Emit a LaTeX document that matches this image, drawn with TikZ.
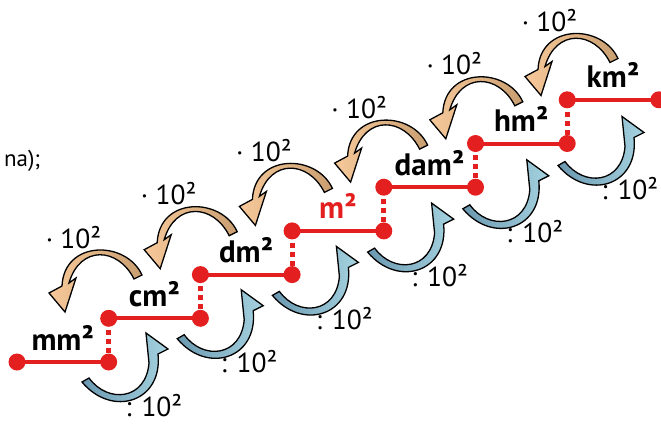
\documentclass[tikz,border=0pt]{standalone}
\usepackage{fontspec}
\setmainfont{PT Sans}
\usepackage{tikz}
\usetikzlibrary{calc}
\definecolor{stepRed}{HTML}{E3201F}
\definecolor{peachDark}{HTML}{C99E70}
\definecolor{peachLight}{HTML}{F7C99A}
\definecolor{steelDark}{HTML}{6A98B0}
\definecolor{steelLight}{HTML}{A6D3E0}

\begin{document}
\begin{tikzpicture}[x=1pt,y=-1pt,
  redLine/.style={stepRed,line width=4pt},
  redDots/.style={stepRed,line width=5pt,dash pattern=on 5pt off 4pt},
  unitLabel/.style={anchor=base,font=\fontsize{31}{36}\selectfont\bfseries},
  factorLabel/.style={anchor=base,font=\fontsize{27.5}{32}\selectfont},
  mulArrow/.style={draw=black,line width=1.3pt,left color=peachLight,right color=peachDark},
  divArrow/.style={draw=black,line width=1.3pt,left color=steelDark,right color=steelLight}]
\useasboundingbox (0,0) rectangle (661,424);
\node[anchor=base west,font=\fontsize{23}{26}\selectfont] (cut) at (0.5,166) {na);};
\foreach \k in {0,...,5}{
  \begin{scope}[shift={(95.2*\k,-43.3*\k)}]
    \path[mulArrow] (134,279) .. controls (118,247) and (80,245) .. (69,283) -- (76,278) -- (65,312)
      -- (49,293) -- (62,286) .. controls (64,240) and (126,240) .. (142,275) -- cycle;
    \path[divArrow] (89,378) .. controls (108,404) and (146,400) .. (149,363) -- (146,333) -- (168,349)
      -- (158,354) .. controls (163,402) and (112,418) .. (82,382) -- cycle;
    \node[factorLabel] (f\k) at (73.5,248) {· 10²};
    \node[factorLabel] (g\k) at (154,416) {: 10²};
  \end{scope}
}
\foreach \k in {0,...,6}{
  \coordinate (a\k) at ({17+91.7*\k},{362-43.7*\k});
  \coordinate (b\k) at ({108.7+91.7*\k},{362-43.7*\k});
}
\foreach \k in {0,...,5}{
  \pgfmathtruncatemacro{\n}{\k+1}
  \draw[redDots] (b\k) -- (a\n);
}
\foreach \k in {0,...,6}{
  \draw[redLine] (a\k) -- (b\k);
  \fill[stepRed] (a\k) circle (8.5pt) (b\k) circle (8.5pt);
}
\foreach \unit/\col [count=\k from 0] in {mm/black,cm/black,dm/black,m/stepRed,dam/black,hm/black,km/black}
  \node[unitLabel,text=\col] (u\k) at ($(a\k)!0.5!(b\k)+(0,-12)$) {\unit²};
\end{tikzpicture}
\end{document}
